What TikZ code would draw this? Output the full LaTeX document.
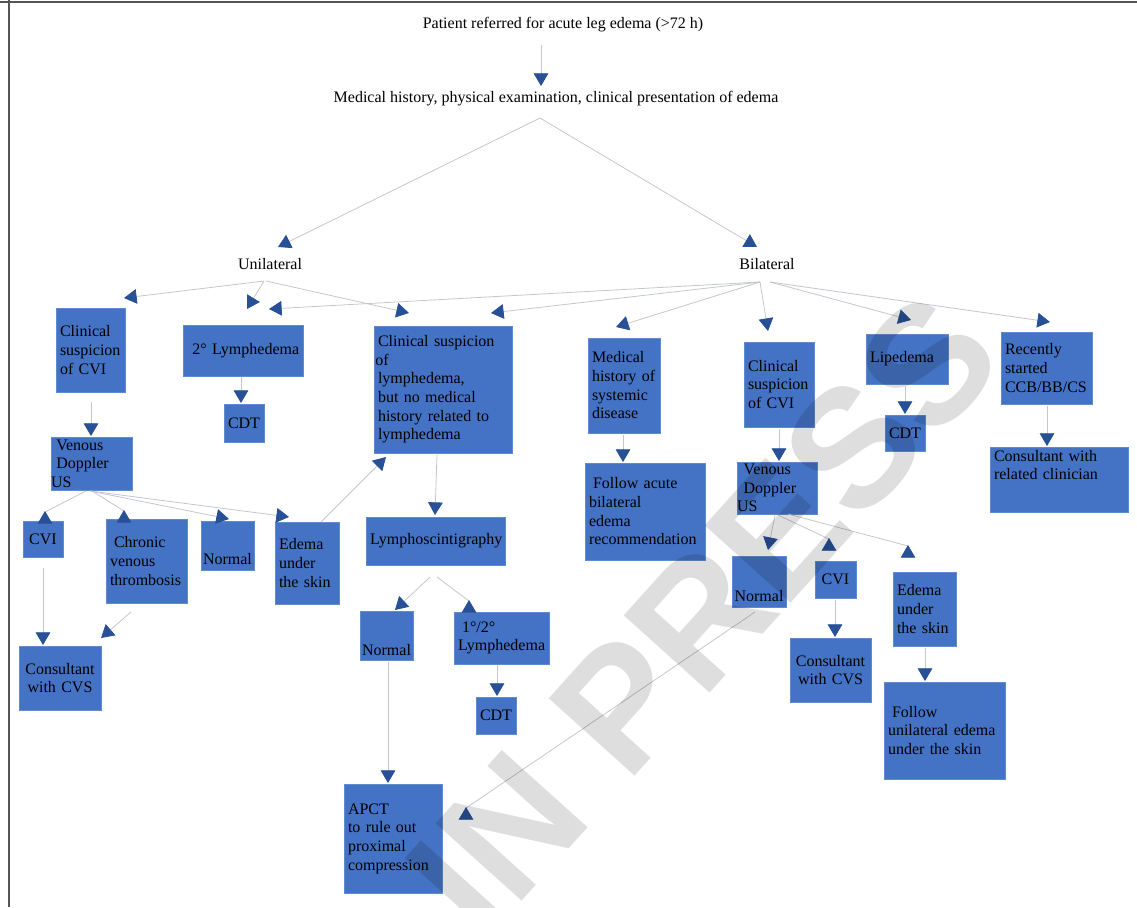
\documentclass[tikz,border=0pt]{standalone}
\usepackage{fontspec}
\setmainfont{Liberation Serif}
\newfontfamily\wmfont{Liberation Sans}
\usetikzlibrary{arrows.meta,calc}
\definecolor{boxblue}{RGB}{68,114,196}
\definecolor{boxedge}{RGB}{95,140,205}
\definecolor{headblue}{RGB}{40,80,150}
\definecolor{linegray}{RGB}{195,199,205}
\definecolor{framegray}{RGB}{85,85,85}
\begin{document}
\begin{tikzpicture}[x=0.75pt,y=-0.75pt,
  every node/.style={font=\fontsize{12}{14}\selectfont},
  plain/.style={inner sep=0pt},
  box/.style={rectangle, fill=boxblue, draw=boxedge, line width=0.5pt, inner xsep=3pt, inner ysep=0pt, align=left},
  cbox/.style={box, align=center},
  conn/.style={draw=linegray, line width=0.6pt, -{Triangle[width=11pt,length=9.5pt,color=headblue]}},
  wm/.style={font=\wmfont\bfseries\fontsize{126}{126}\selectfont, text=black, text opacity=0.13, inner sep=0pt, rotate=48}
]
\useasboundingbox (0,0) rectangle (1137,907);
\draw[framegray, line width=1.5pt] (0,1.5) -- (1137,1.5);
\draw[framegray, line width=1.1pt] (9,0) -- (9,907);

% top texts
\node[plain] (top) at (563,25) {Patient referred for acute leg edema (>72 h)};
\node[plain] (med) at (556,99) {Medical history, physical examination, clinical presentation of edema};
\node[plain] (uni) at (270,264) {Unilateral};
\node[plain] (bil) at (767,264) {Bilateral};

% unilateral branch
\node[box, text width=45.75pt, minimum height=63pt] (cscvi1) at (90.5,350) {Clinical\\suspicion\\of CVI};
\node[box, text width=84pt, minimum height=38.25pt] (lym2) at (243,350.5) {\mbox{\ 2° Lymphedema}};
\node[cbox, text width=24pt, minimum height=28.5pt] (cdt1) at (244,423) {CDT};
\node[box, text width=97.5pt, minimum height=95.25pt] (cslym) at (443,389.5) {Clinical~suspicion\\\hspace{-2pt}of\\lymphedema,\\but~no~medical\\history~related~to\\lymphedema};
\node[box, text width=54.75pt, minimum height=39.75pt] (vdus1) at (91.5,463.5) {\hspace{1pt}Venous\\\hspace{1pt}Doppler\\\hspace{-3pt}US};
\node[cbox, text width=24pt, minimum height=27pt] (cvi1) at (43,539) {CVI};
\node[box, text width=54.75pt, minimum height=63pt] (cvt) at (146.5,561) {\hspace{3pt}Chronic\\venous\\thrombosis};
\node[cbox, minimum width=39.75pt, minimum height=36.75pt, text height=32.25pt, text depth=4.5pt, inner xsep=0pt] (norm1) at (227.5,545.5) {Normal};
\node[box, text width=42pt, minimum height=61.5pt] (eus1) at (307,563) {Edema\\under\\the~skin};
\node[box, text width=98.25pt, minimum height=36pt] (lsg) at (435.5,541) {Lymphoscintigraphy};
\node[cbox, text width=55.5pt, minimum height=48pt] (ccvs1) at (60,678) {Consultant\\with CVS};
\node[cbox, minimum width=39.75pt, minimum height=36.75pt, text height=33pt, text depth=3.75pt, inner xsep=0pt] (norm2) at (386.5,635.5) {Normal};
\node[box, text width=65.25pt, minimum height=39pt] (lym12) at (501.5,638) {\hspace{3pt}1°/2°\\Lymphedema};
\node[cbox, text width=24pt, minimum height=27.75pt] (cdt2) at (496,715.5) {CDT};
\node[box, text width=67.5pt, minimum height=81.75pt] (apct) at (393,838.5) {APCT\\to~rule~out\\proximal\\compression};

% bilateral branch
\node[box, text width=48pt, minimum height=71.25pt] (mhsd) at (624,385.5) {Medical\\history~of\\systemic\\disease};
\node[box, text width=84pt, minimum height=72.75pt] (fab) at (645,511.5) {\hspace{3pt}Follow~acute\\bilateral\\edema\\recommendation};
\node[box, text width=46.5pt, minimum height=63.75pt] (cscvi2) at (779,384.5) {Clinical\\suspicion\\of CVI};
\node[box, text width=54pt, minimum height=39pt] (vdus2) at (777,488) {\hspace{2pt}Venous\\\hspace{2pt}Doppler\\\hspace{-3pt}US};
\node[box, text width=55.5pt, minimum height=37.5pt] (lip) at (907,359) {Lipedema};
\node[cbox, text width=24pt, minimum height=27pt] (cdt3) at (905,433) {CDT};
\node[box, text width=62.25pt, minimum height=54pt] (rec) at (1046.5,368) {Recently\\started\\CCB/BB/CS};
\node[box, text width=97.5pt, minimum height=48.75pt] (crc) at (1059,479.5) {Consultant~with\\related~clinician\\[8pt]\mbox{}};
\node[cbox, minimum width=40.5pt, minimum height=38.25pt, text height=33.75pt, text depth=4.5pt, inner xsep=0pt] (norm3) at (759,581.5) {Normal};
\node[cbox, text width=24.75pt, minimum height=27.75pt] (cvi2) at (835.5,579.5) {CVI};
\node[cbox, text width=54.75pt, minimum height=48pt] (ccvs2) at (830.5,670) {Consultant\\with CVS};
\node[box, text width=41.25pt, minimum height=55.5pt] (eus2) at (924.5,609) {Edema\\under\\the~skin};
\node[box, text width=84.75pt, minimum height=72.75pt] (fue) at (944.5,730.5) {\hspace{3pt}Follow\\unilateral~edema\\under~the~skin};

% arrow tips
\coordinate (tA) at (541,86);
\coordinate (tU) at (278,247);
\coordinate (tB) at (757,247);
\coordinate (tU1) at (124,298);
\coordinate (tU2) at (247,309);
\coordinate (tU3) at (409,313);
\coordinate (tB1) at (269,309);
\coordinate (tB2) at (491,313);
\coordinate (tB3) at (616,327);
\coordinate (tB4) at (768,331);
\coordinate (tB5) at (911,320);
\coordinate (tB6) at (1050,322);
\coordinate (tC1) at (91,436);
\coordinate (tC2) at (241,403);
\coordinate (tC3) at (435,515);
\coordinate (tV1) at (45,511);
\coordinate (tV2) at (124,510);
\coordinate (tV3) at (229,519);
\coordinate (tV4) at (289,517);
\coordinate (tD1) at (43,645);
\coordinate (tD2) at (101,638);
\coordinate (tE1) at (386,457);
\coordinate (tL1) at (395,610);
\coordinate (tL2) at (469,600);
\coordinate (tN2) at (388,783);
\coordinate (tM1) at (497,696);
\coordinate (tR1) at (623,462);
\coordinate (tR2) at (779,461);
\coordinate (tR3) at (905,414);
\coordinate (tR4) at (1047,446);
\coordinate (tW1) at (768,550);
\coordinate (tW2) at (829,538);
\coordinate (tW3) at (908,545);
\coordinate (tX1) at (835,637);
\coordinate (tX2) at (925,681);
\coordinate (tN3) at (466,807);

% connectors
\draw[conn] ([shift={(-22,20)}]top.center) -- (tA);
\draw[conn] ([shift={(-16,19)}]med.center) -- (tU);
\draw[conn] ([shift={(-16,19)}]med.center) -- (tB);
\draw[conn] ([shift={(-6,17)}]uni.center) -- (tU1);
\draw[conn] ([shift={(-6,17)}]uni.center) -- (tU2);
\draw[conn] ([shift={(-4,17)}]uni.center) -- (tU3);
\draw[conn] ([shift={(-7,18)}]bil.center) -- (tB1);
\draw[conn] ([shift={(-7,18)}]bil.center) -- (tB2);
\draw[conn] ([shift={(-7,18)}]bil.center) -- (tB3);
\draw[conn] ([shift={(-7,18)}]bil.center) -- (tB4);
\draw[conn] ([shift={(3,18)}]bil.center) -- (tB5);
\draw[conn] ([shift={(3,18)}]bil.center) -- (tB6);
\draw[conn] ([shift={(0.5,52)}]cscvi1.center) -- (tC1);
\draw[conn] ([shift={(-2,26.5)}]lym2.center) -- (tC2);
\draw[conn] ([shift={(-6,65.5)}]cslym.center) -- (tC3);
\draw[conn] ([shift={(-5.5,27.5)}]vdus1.center) -- ($(tV1)+(0,1)$) -- (tV1);
\draw[conn] ([shift={(0.5,27.5)}]vdus1.center) -- ($(tV2)+(0,1)$) -- (tV2);
\draw[conn] ([shift={(-1.5,27.5)}]vdus1.center) -- (tV3);
\draw[conn] ([shift={(-1.5,27.5)}]vdus1.center) -- (tV4);
\draw[conn] ([shift={(0,29)}]cvi1.center) -- (tD1);
\draw[conn] ([shift={(-15.5,51)}]cvt.center) -- (tD2);
\draw[conn] ([shift={(14,-41)}]eus1.center) -- (tE1);
\draw[conn] ([shift={(-5.5,36)}]lsg.center) -- (tL1);
\draw[conn] ([shift={(1.5,36)}]lsg.center) -- ($(tL2)+(0,1)$) -- (tL2);
\draw[conn] ([shift={(1.5,26.5)}]norm2.center) -- (tN2);
\draw[conn] ([shift={(-4.5,27)}]lym12.center) -- (tM1);
\draw[conn] ([shift={(-1,49.5)}]mhsd.center) -- (tR1);
\draw[conn] ([shift={(0,44.5)}]cscvi2.center) -- (tR2);
\draw[conn] ([shift={(-2,27)}]lip.center) -- (tR3);
\draw[conn] ([shift={(0.5,38)}]rec.center) -- (tR4);
\draw[conn] ([shift={(-2,27)}]vdus2.center) -- (tW1);
\draw[conn] ([shift={(1,27)}]vdus2.center) -- ($(tW2)+(0,1)$) -- (tW2);
\draw[conn] ([shift={(11,26)}]vdus2.center) -- ($(tW3)+(0,1)$) -- (tW3);
\draw[conn] ([shift={(-0.5,20.5)}]cvi2.center) -- (tX1);
\draw[conn] ([shift={(0.5,39)}]eus2.center) -- (tX2);
\draw[conn] ([shift={(-4,30.5)}]norm3.center) -- ($(tN3)+(0,1)$) -- (tN3);

% watermark
\node[wm] (wmark) at (703,614) {IN PRESS};
\end{tikzpicture}
\end{document}
